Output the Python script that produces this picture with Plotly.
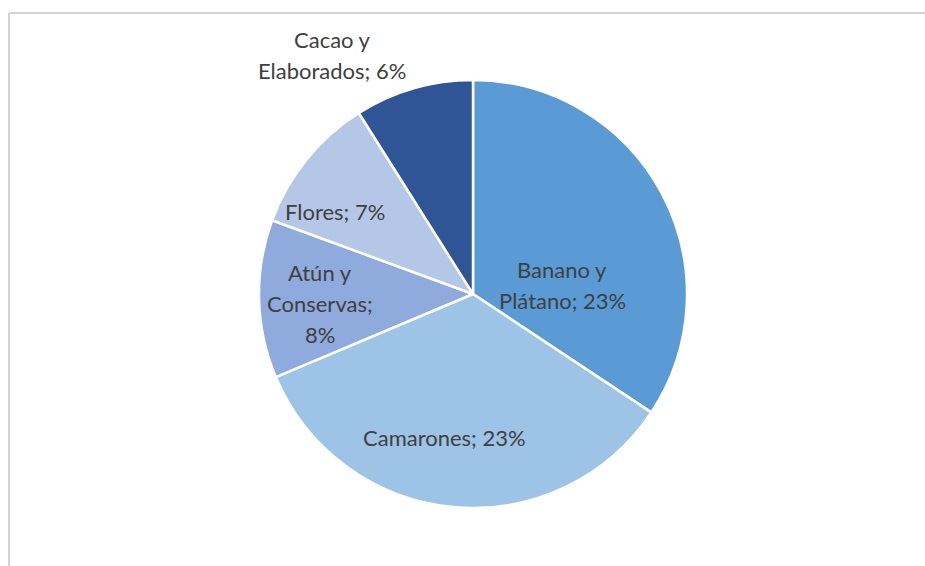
import plotly.graph_objects as go

# Export shares by product
categories = ["Banano y Plátano", "Camarones", "Atún y Conservas", "Flores", "Cacao y Elaborados"]
shares = [23, 23, 8, 7, 6]
label_lines = [["Banano y", "Plátano; {}%"],
               ["Camarones; {}%"],
               ["Atún y", "Conservas;", "{}%"],
               ["Flores; {}%"],
               ["Cacao y", "Elaborados; {}%"]]
colors = ["#5b9bd5", "#9dc3e6", "#8faadc", "#b4c7e7", "#2f5597"]

W, H = 925, 566
# Label block centres in pixels (x, y from top) and line pitch
label_pos = [(562, 285), (444, 438), (320, 303), (335, 211), (332, 55)]
line_pitch = 31

fig = go.Figure(go.Pie(
    labels=categories,
    values=shares,
    sort=False,
    direction="clockwise",
    rotation=0,
    marker=dict(colors=colors, line=dict(color="white", width=2.5)),
    textinfo="none",
    hoverinfo="label+value",
    showlegend=False,
    domain=dict(x=[259 / W, 687 / W], y=[1 - 508 / H, 1 - 80 / H]),
))

for lines, v, (cx, cy) in zip(label_lines, shares, label_pos):
    n = len(lines)
    for i, line in enumerate(lines):
        ly = cy + (i - (n - 1) / 2) * line_pitch
        fig.add_annotation(
            x=cx / W, y=1 - ly / H, xref="paper", yref="paper",
            xanchor="center", yanchor="middle",
            text=line.format(v), showarrow=False,
            font=dict(family="Lato, Open Sans, sans-serif", size=22, color="#404040"),
        )

# Chart area border (top and left edges)
frame = dict(color="#d4d4d4", width=2)
fig.add_shape(type="line", xref="paper", yref="paper", x0=9 / W, x1=1, y0=1 - 13 / H, y1=1 - 13 / H, line=frame)
fig.add_shape(type="line", xref="paper", yref="paper", x0=9 / W, x1=9 / W, y0=0, y1=1 - 13 / H, line=frame)

fig.update_layout(
    width=W, height=H,
    margin=dict(l=0, r=0, t=0, b=0),
    paper_bgcolor="white", plot_bgcolor="white",
)

fig.write_html("out.html")
